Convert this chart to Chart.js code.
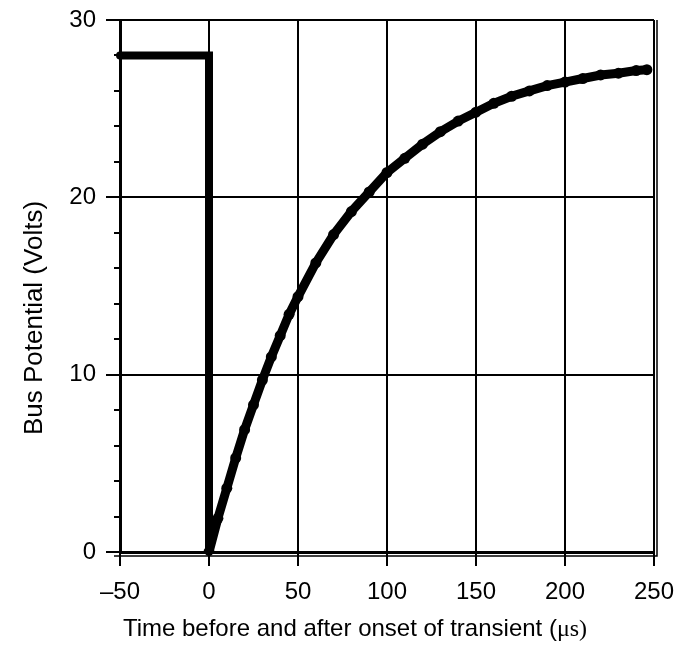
<!DOCTYPE html>
<html>
<head>
<meta charset="utf-8">
<script src="https://cdn.jsdelivr.net/npm/chart.js@4.4.1/dist/chart.umd.min.js"></script>
<style>
  html, body { margin: 0; padding: 0; background: #fff; }
  #wrap { width: 679px; height: 657px; }
</style>
</head>
<body>
<div id="wrap"><canvas id="busChart" width="679" height="657"></canvas></div>
<script>
// Bus potential before the transient (step at t = 0)
const stepTime = [-50, 0, 0];
const stepVolts = [28, 28, 0];

// Recovery after onset of transient
const recoveryTime = [0, 5, 10, 15, 20, 25, 30, 35, 40, 45, 50, 60, 70, 80, 90, 100,
    110, 120, 130, 140, 150, 160, 170, 180, 190, 200, 210, 220, 230, 240, 246];
const recoveryVolts = [0, 1.9, 3.6, 5.3, 6.9, 8.3, 9.7, 11.0, 12.2, 13.4, 14.4, 16.3, 17.9, 19.2, 20.3, 21.4,
    22.2, 23.0, 23.7, 24.3, 24.8, 25.3, 25.7, 26.0, 26.3, 26.5, 26.7, 26.9, 27.0, 27.15, 27.2];

const xTicks = [-50, 0, 50, 100, 150, 200, 250];
const yTicks = [0, 10, 20, 30];
const yMinorTicks = [2, 4, 6, 8, 12, 14, 16, 18, 22, 24, 26, 28];

const FONT = '"Liberation Sans", Arial, sans-serif';

function toPoints(xs, ys) {
    return xs.map((x, i) => ({ x: x, y: ys[i] }));
}

// minor ticks, the doubled frame and the axis titles
const extrasPlugin = {
    id: 'extras',
    afterDraw(chart) {
        const ctx = chart.ctx;
        const area = chart.chartArea;
        const yScale = chart.scales.y;
        ctx.save();
        ctx.strokeStyle = '#000';
        ctx.lineWidth = 2;
        yMinorTicks.forEach(v => {
            const py = Math.round(yScale.getPixelForValue(v));
            ctx.beginPath();
            ctx.moveTo(area.left - 6, py);
            ctx.lineTo(area.left, py);
            ctx.stroke();
        });
        // outer frame line, right and bottom
        ctx.lineWidth = 1.5;
        ctx.beginPath();
        ctx.moveTo(area.right + 3, area.top);
        ctx.lineTo(area.right + 3, area.bottom + 4);
        ctx.lineTo(area.left - 6, area.bottom + 4);
        ctx.stroke();

        ctx.fillStyle = '#000';
        ctx.textBaseline = 'alphabetic';
        // y title
        ctx.save();
        ctx.font = '26px ' + FONT;
        ctx.translate(42, 318);
        ctx.rotate(-Math.PI / 2);
        ctx.textAlign = 'center';
        ctx.fillText('Bus Potential (Volts)', 0, 0);
        ctx.restore();
        // x title with serif unit
        const partA = 'Time before and after onset of transient (';
        const partB = 'μs)';
        ctx.font = '24px ' + FONT;
        const wA = ctx.measureText(partA).width;
        ctx.font = '24px "Liberation Serif", "Times New Roman", serif';
        const wB = ctx.measureText(partB).width;
        const startX = 355 - (wA + wB) / 2;
        ctx.textAlign = 'left';
        ctx.font = '24px ' + FONT;
        ctx.fillText(partA, startX, 636);
        ctx.font = '24px "Liberation Serif", "Times New Roman", serif';
        ctx.fillText(partB, startX + wA, 636);
        ctx.restore();
    }
};

const ctx = document.getElementById('busChart').getContext('2d');
new Chart(ctx, {
    type: 'scatter',
    data: {
        datasets: [
            {
                label: 'Before',
                data: toPoints(stepTime, stepVolts),
                showLine: true,
                borderColor: '#000',
                backgroundColor: '#000',
                borderWidth: 8,
                pointRadius: 0,
                borderCapStyle: 'round',
                borderJoinStyle: 'miter',
                clip: 6
            },
            {
                label: 'After',
                data: toPoints(recoveryTime, recoveryVolts),
                showLine: true,
                borderColor: '#000',
                backgroundColor: '#000',
                borderWidth: 9,
                pointRadius: 5.5,
                pointBorderWidth: 0,
                borderCapStyle: 'round'
            }
        ]
    },
    options: {
        responsive: false,
        animation: false,
        events: [],
        layout: { padding: { top: 20, right: 25, left: 0, bottom: 0 } },
        plugins: {
            legend: { display: false },
            tooltip: { enabled: false }
        },
        scales: {
            x: {
                type: 'linear',
                min: -50,
                max: 250,
                afterBuildTicks: scale => { scale.ticks = xTicks.map(v => ({ value: v })); },
                afterFit: scale => {
                    scale.height = 105;
                    scale.paddingLeft = 0;
                    scale.paddingRight = 0;
                },
                grid: { color: '#000', lineWidth: 2, tickLength: 14, tickColor: '#000', tickWidth: 2 },
                border: { color: '#000', width: 3 },
                ticks: {
                    color: '#000',
                    padding: 12,
                    maxRotation: 0,
                    font: { family: FONT, size: 24 },
                    callback: v => String(v).replace('-', '\u2013')
                }
            },
            y: {
                type: 'linear',
                min: 0,
                max: 30,
                afterBuildTicks: scale => { scale.ticks = yTicks.map(v => ({ value: v })); },
                afterFit: scale => {
                    scale.width = 120;
                    scale.paddingTop = 0;
                    scale.paddingBottom = 0;
                },
                grid: { color: '#000', lineWidth: 2, tickLength: 14, tickColor: '#000', tickWidth: 2 },
                border: { color: '#000', width: 3 },
                ticks: {
                    color: '#000',
                    padding: 10,
                    font: { family: FONT, size: 24 }
                }
            }
        }
    },
    plugins: [extrasPlugin]
});
</script>
</body>
</html>
